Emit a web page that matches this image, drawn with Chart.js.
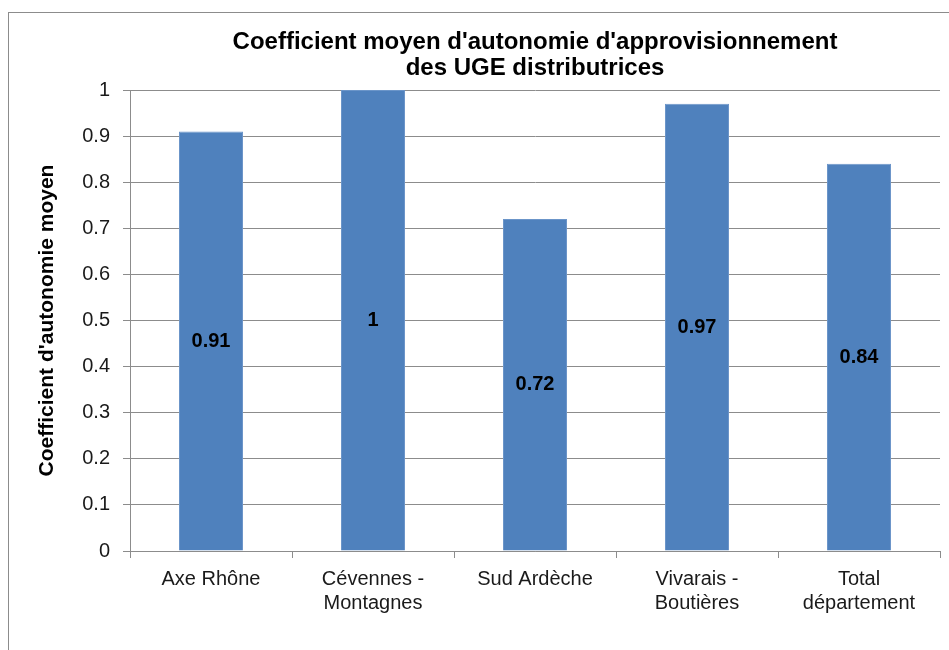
<!DOCTYPE html>
<html>
<head>
<meta charset="utf-8">
<script src="https://cdn.jsdelivr.net/npm/chart.js@4/dist/chart.umd.min.js"></script>
<style>
  html,body{margin:0;padding:0;background:#fff;overflow:hidden}
  #frame{position:absolute;left:8px;top:12px;width:960px;height:660px;border:1px solid #8c8c8c;border-right:none;border-bottom:none}
  #ch{position:absolute;left:0;top:0}
</style>
</head>
<body>
<div id="frame"></div>
<canvas id="ch" width="949" height="650"></canvas>
<script>
/* ---------- Données ---------- */
const categories=[['Axe Rhône'],['Cévennes -','Montagnes'],['Sud Ardèche'],['Vivarais -','Boutières'],['Total','département']];
const values=[0.91,1,0.72,0.97,0.84];
const yTicks=[0,0.1,0.2,0.3,0.4,0.5,0.6,0.7,0.8,0.9,1];
const titleLines=["Coefficient moyen d'autonomie d'approvisionnement",'des UGE distributrices'];
const yTitle="Coefficient d'autonomie moyen";

const FONT='"Liberation Sans", Arial, sans-serif';

/* ---------- Plugins ---------- */
const titlePlugin={
  id:'centerTitle',
  afterDraw(chart){
    const {ctx,chartArea}=chart;
    const cx=(chartArea.left+chartArea.right)/2;
    ctx.save();
    ctx.font='bold 24px '+FONT;
    ctx.fillStyle='#000';
    ctx.textAlign='center';ctx.textBaseline='middle';
    titleLines.forEach((t,i)=>ctx.fillText(t,cx,42+i*26));
    ctx.restore();
  }
};
const valueLabels={
  id:'valueLabels',
  afterDatasetsDraw(chart){
    const {ctx}=chart;
    const meta=chart.getDatasetMeta(0);
    ctx.save();
    ctx.font='bold 20px '+FONT;
    ctx.fillStyle='#000';
    ctx.textAlign='center';ctx.textBaseline='middle';
    meta.data.forEach((bar,i)=>{
      ctx.fillText(String(values[i]),bar.x,(bar.y+bar.base)/2);
    });
    ctx.restore();
  }
};

new Chart(document.getElementById('ch'),{
  type:'bar',
  data:{labels:categories,datasets:[{
    data:values,
    backgroundColor:'#4F81BD',
    borderColor:'#6b95c9',
    borderWidth:1,
    barPercentage:0.395,
    categoryPercentage:1
  }]},
  options:{
    responsive:false,
    animation:false,
    layout:{padding:{top:90,right:9,left:0,bottom:0}},
    plugins:{legend:{display:false},title:{display:false},tooltip:{enabled:false}},
    scales:{
      x:{
        grid:{display:true,drawOnChartArea:false,drawTicks:true,tickLength:7,color:'#8c8c8c',offset:true},
        border:{display:true,color:'#8c8c8c',width:1},
        ticks:{color:'#1a1a1a',font:{family:FONT,size:20,lineHeight:1.2},padding:9,maxRotation:0,autoSkip:false},
        afterFit(s){s.height=99;}
      },
      y:{
        min:0,max:1,
        afterBuildTicks(s){s.ticks=yTicks.map(v=>({value:v}));},
        grid:{color:'#8c8c8c',tickLength:7,lineWidth:1},
        border:{display:true,color:'#8c8c8c',width:1},
        ticks:{color:'#1a1a1a',font:{family:FONT,size:20},padding:13,callback:v=>String(+v.toFixed(1))},
        title:{display:true,text:yTitle,color:'#000',font:{family:FONT,size:21,weight:'bold'},padding:{top:35,bottom:0}},
        afterFit(s){s.width=130;}
      }
    }
  },
  plugins:[titlePlugin,valueLabels]
});
</script>
</body>
</html>
